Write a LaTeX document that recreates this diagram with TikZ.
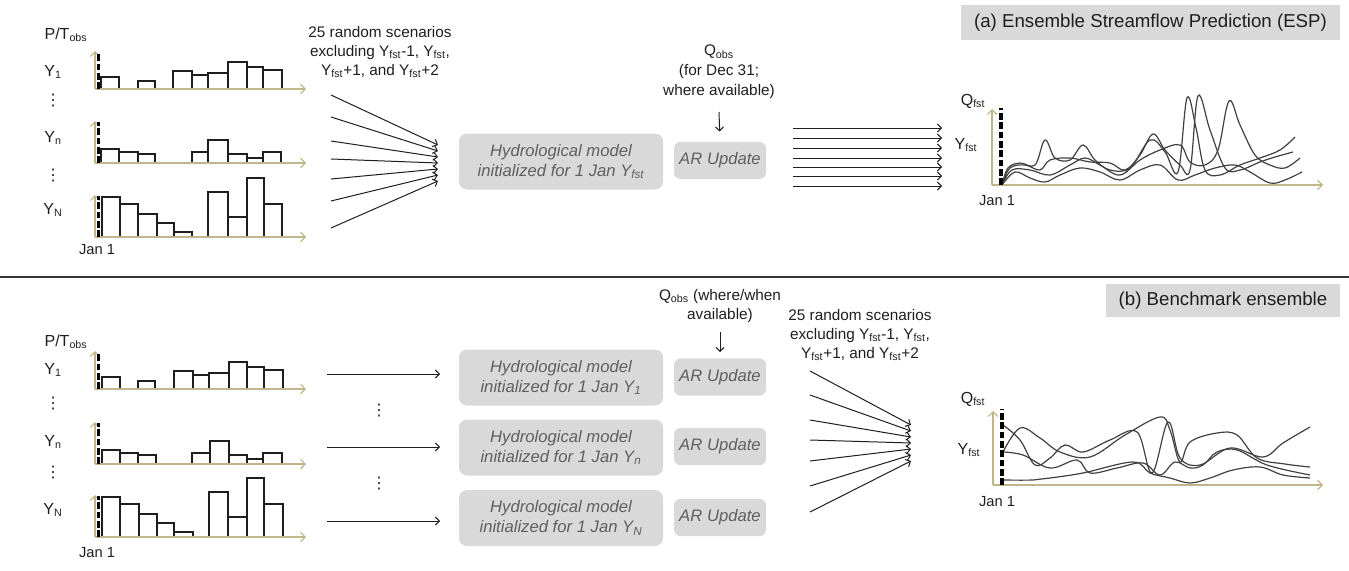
\documentclass[tikz,border=0pt]{standalone}
\usepackage{fontspec}
\setmainfont{Liberation Sans}
\newfontfamily\dejavu{DejaVu Sans}
\usetikzlibrary{arrows.meta}
\definecolor{axtan}{RGB}{193,181,138}
\definecolor{boxgray}{RGB}{217,217,217}
\definecolor{boxtxt}{RGB}{95,95,95}
\definecolor{ink}{RGB}{30,30,30}
\newcommand{\histo}[3]{%
  \foreach \a/\b/\h in {#3} \draw[bar] (\a,#1) rectangle (\b,#1-\h);
  \draw[axis] (95,#1) -- (95,#1-#2);
  \draw[axis] (95,#1) -- (306,#1);
  \draw[jan] (98.5,#1) -- (98.5,#1-#2+1);
}
\begin{document}
\begin{tikzpicture}[x=0.75pt,y=-0.75pt,
  axis/.style={draw=axtan, line width=0.9pt, -{Straight Barb[length=3.5pt,width=7pt]}},
  bar/.style={draw=ink, line width=1pt, fill=white},
  jan/.style={draw=black, line width=2.3pt, dash pattern=on 5pt off 2pt},
  arr/.style={draw=ink, line width=0.75pt, -{Straight Barb[length=3pt,width=6pt]}},
  lbl/.style={text=ink, font=\fontsize{12}{14}\selectfont, inner sep=0pt},
  dlbl/.style={text=ink, font=\fontsize{11}{14}\selectfont, inner sep=0pt},
  vd/.style={text=ink, font=\dejavu\fontsize{12}{14}\selectfont, inner sep=0pt},
  note/.style={text=ink, font=\fontsize{11.5}{14.3}\selectfont, align=center, inner sep=0pt},
  model/.style={fill=boxgray, rounded corners=6pt, text=boxtxt, align=center,
    font=\fontsize{12.5}{15}\selectfont\itshape, minimum width=153pt, minimum height=42pt, inner sep=0pt},
  arbox/.style={fill=boxgray, rounded corners=5pt, text=boxtxt,
    font=\fontsize{12.5}{15}\selectfont\itshape, minimum width=69pt, minimum height=28pt, inner sep=0pt},
  title/.style={fill=boxgray, text=ink, font=\fontsize{14}{16}\selectfont, inner sep=0pt},
  curve/.style={draw=ink!85, line width=0.9pt}
]
\useasboundingbox (0,0) rectangle (1349,571);

% separator
\draw[draw=ink!90, line width=1.1pt] (0,277) -- (1349,277);

% ================= (a) =================
\node[title, minimum width=284pt, minimum height=26pt] (ta) at (1150.5,22.5) {(a) Ensemble Streamflow Prediction (ESP)};

\node[lbl] (pta) at (66,35) {P/T\textsubscript{obs}};
\node[lbl] (y1a) at (53,72) {Y\textsubscript{1}};
\node[vd] (d1a) at (53,101) {⋮};
\node[lbl] (yna) at (53,138) {Y\textsubscript{n}};
\node[vd] (d2a) at (53,176) {⋮};
\node[lbl] (yNa) at (53,210) {Y\textsubscript{N}};
\node[dlbl] (ja) at (97,250) {Jan 1};

\histo{89}{38}{101/119/12, 138/155/8, 173/192/18, 192/208/14, 208/228/16, 228/247/27, 247/263/22, 263/282/19}
\histo{163}{42}{101/119/14, 119/138/11, 138/155/9, 192/208/11, 208/228/23, 228/247/9, 247/263/5, 263/281/11}
\histo{237}{42}{102/120/40, 120/138/33, 138/157/23, 157/174/14, 174/192/5, 208/228/45, 228/247/20, 247/264/59, 264/282/33}

\node[note] (sca) at (380,52) {25 random scenarios\\excluding Y\textsubscript{fst}-1, Y\textsubscript{fst},\\Y\textsubscript{fst}+1, and Y\textsubscript{fst}+2};

\foreach \i/\ys/\ye in {1/95/145, 2/117/151, 3/141/157, 4/159/163, 5/179/169, 6/201/175, 7/228/181} {
  \coordinate (fsa\i) at (331,\ys);
  \coordinate (fea\i) at (438,\ye);
  \draw[arr] (fsa\i) -- (fea\i);
}

\node[model] (ma) at (561,161.5) {Hydrological model\\initialized for 1 Jan Y\textsubscript{fst}};
\node[arbox] (ara) at (720,160.5) {AR Update};

\node[note, font=\fontsize{11.5}{15}\selectfont] (qa) at (719,72) {Q\textsubscript{obs}\\(for Dec 31;\\where available)};
\coordinate (qta) at (719,112);
\draw[arr, shorten >=7.5pt] (qta) -- (ara.north);

\foreach \i/\y in {1/128, 2/138, 3/148, 4/158, 5/167, 6/176, 7/186} {
  \coordinate (psa\i) at (793,\y);
  \coordinate (pea\i) at (942,\y);
  \draw[arr] (psa\i) -- (pea\i);
}

% output plot (a)
\node[lbl] (qfa) at (973,101) {Q\textsubscript{fst}};
\node[lbl] (yfa) at (966,145) {Y\textsubscript{fst}};
\node[dlbl] (jfa) at (997,201) {Jan 1};
\draw[curve] plot[smooth, tension=0.6] coordinates {(1002,185) (1008,168) (1020,163) (1035,165) (1045,140) (1055,158) (1070,160) (1083,145) (1095,160) (1110,170) (1130,168) (1150,140) (1165,152) (1178,172) (1187,98) (1196,128) (1205,170) (1220,175) (1240,165) (1260,158) (1280,150) (1295,137)};
\draw[curve] plot[smooth, tension=0.6] coordinates {(1002,185) (1010,168) (1025,165) (1040,170) (1050,160) (1070,158) (1090,162) (1110,163) (1125,170) (1140,155) (1153,134) (1165,150) (1180,165) (1190,170) (1198,96) (1210,130) (1225,168) (1240,170) (1260,162) (1275,157) (1293,152)};
\draw[curve] plot[smooth, tension=0.6] coordinates {(1002,185) (1012,170) (1030,170) (1050,175) (1070,165) (1085,158) (1100,165) (1120,175) (1140,160) (1160,150) (1180,145) (1190,162) (1205,165) (1218,150) (1229,101) (1240,125) (1255,155) (1270,165) (1285,168) (1300,158)};
\draw[curve] plot[smooth, tension=0.6] coordinates {(1002,185) (1015,172) (1030,178) (1045,182) (1060,175) (1080,168) (1100,172) (1120,180) (1140,170) (1160,165) (1178,180) (1195,175) (1215,168) (1235,165) (1250,172) (1270,183) (1285,180) (1302,172)};
\draw[axis] (992,185) -- (992,109);
\draw[axis] (992,185) -- (1323,185);
\draw[jan] (1001,185) -- (1001,108);

% ================= (b) =================
\node[title, minimum width=175.5pt, minimum height=25pt] (tb) at (1223,300.5) {(b) Benchmark ensemble};

\node[lbl] (ptb) at (66,342) {P/T\textsubscript{obs}};
\node[lbl] (y1b) at (53,370) {Y\textsubscript{1}};
\node[vd] (d1b) at (53,404) {⋮};
\node[lbl] (ynb) at (53,442) {Y\textsubscript{n}};
\node[vd] (d2b) at (53,473) {⋮};
\node[lbl] (yNb) at (53,510) {Y\textsubscript{N}};
\node[dlbl] (jb) at (97,553) {Jan 1};

\histo{389}{38}{102/120/12, 138/155/8, 174/193/18, 193/209/14, 209/229/16, 229/247/27, 247/264/22, 264/283/19}
\histo{464}{42}{102/120/14, 120/138/11, 138/156/9, 192/210/11, 210/229/23, 229/247/9, 247/263/5, 263/282/11}
\histo{537}{42}{102/120/40, 120/139/33, 139/157/23, 157/174/14, 174/193/5, 209/228/45, 228/247/20, 247/264/59, 264/283/33}

\foreach \i/\y in {1/374, 2/447, 3/521} {
  \coordinate (hs\i) at (327,\y);
}
\node[model] (mb1) at (561,377.5) {Hydrological model\\initialized for 1 Jan Y\textsubscript{1}};
\node[model] (mb2) at (561,447.5) {Hydrological model\\initialized for 1 Jan Y\textsubscript{n}};
\node[model] (mb3) at (561,518) {Hydrological model\\initialized for 1 Jan Y\textsubscript{N}};
\draw[arr, shorten >=14pt] (hs1) -- (hs1 -| mb1.west);
\draw[arr, shorten >=14pt] (hs2) -- (hs2 -| mb2.west);
\draw[arr, shorten >=14pt] (hs3) -- (hs3 -| mb3.west);
\node[vd] (d3b) at (379,411) {⋮};
\node[vd] (d4b) at (379,484) {⋮};

\node[arbox] (arb1) at (720,377) {AR Update};
\node[arbox] (arb2) at (720,446.5) {AR Update};
\node[arbox] (arb3) at (720,517.5) {AR Update};

\node[note] (qb) at (720,306) {Q\textsubscript{obs} (where/when\\available)};
\coordinate (qtb) at (720,332);
\draw[arr, shorten >=4.5pt] (qtb) -- (arb1.north);

\node[note] (scb) at (860,335) {25 random scenarios\\excluding Y\textsubscript{fst}-1, Y\textsubscript{fst},\\Y\textsubscript{fst}+1, and Y\textsubscript{fst}+2};

\foreach \i/\ys/\ye in {1/371/425, 2/395/431, 3/420/437, 4/440/443, 5/461/449, 6/486/455, 7/512/461} {
  \coordinate (fsb\i) at (810,\ys);
  \coordinate (feb\i) at (911,\ye);
  \draw[arr] (fsb\i) -- (feb\i);
}

% output plot (b)
\node[lbl] (qfb) at (973,399) {Q\textsubscript{fst}};
\node[lbl] (yfb) at (969,450) {Y\textsubscript{fst}};
\node[dlbl] (jfb) at (997,502) {Jan 1};
\draw[curve] plot[smooth, tension=0.6] coordinates {(1003,452) (1020,428) (1040,438) (1060,452) (1090,457) (1125,435) (1160,417) (1170,430) (1180,462) (1190,442) (1217,433) (1237,435) (1257,458) (1285,464) (1310,467)};
\draw[curve] plot[smooth, tension=0.6] coordinates {(1003,425) (1020,440) (1035,465) (1050,458) (1065,445) (1083,452) (1110,440) (1137,432) (1152,473) (1168,422) (1180,458) (1200,465) (1230,448) (1263,457) (1283,443) (1310,427)};
\draw[curve] plot[smooth, tension=0.6] coordinates {(1003,452) (1023,455) (1050,468) (1077,460) (1090,473) (1117,468) (1143,463) (1160,475) (1175,462) (1190,468) (1203,465) (1217,452) (1237,450) (1267,465) (1310,475)};
\draw[curve] plot[smooth, tension=0.6] coordinates {(1003,480) (1033,480) (1050,478) (1083,473) (1133,462) (1150,473) (1170,478) (1190,483) (1210,478) (1233,470) (1260,467) (1283,475) (1310,478)};
\draw[axis] (993,485) -- (993,411);
\draw[axis] (993,485) -- (1323,485);
\draw[jan] (1002,485) -- (1002,409);
\end{tikzpicture}
\end{document}
